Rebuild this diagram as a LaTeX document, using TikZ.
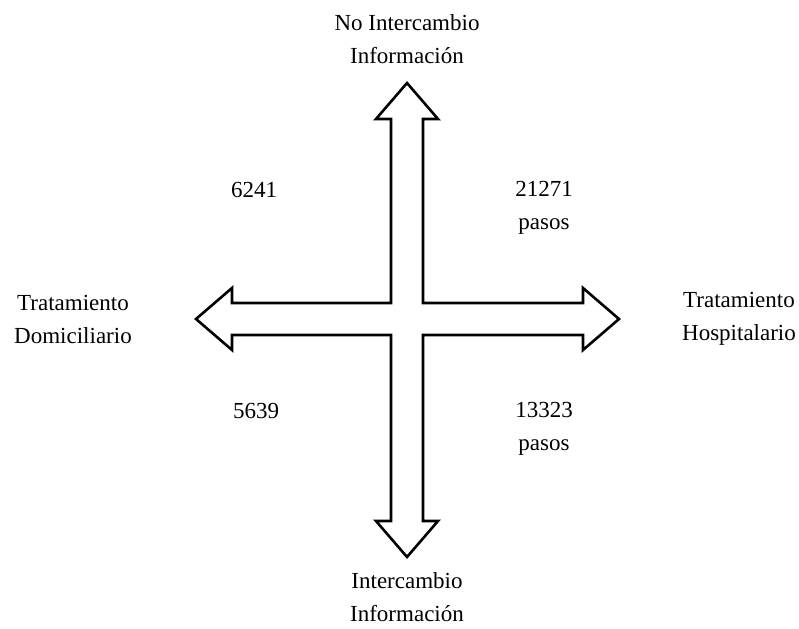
\documentclass[tikz,border=0pt]{standalone}
\usepackage{fontspec}
\setmainfont{Liberation Serif}
\usepackage{tikz}
\usetikzlibrary{positioning}

\begin{document}
\begin{tikzpicture}[x=1pt, y=-1pt, every node/.style={font=\fontsize{23}{33}\selectfont, align=center, inner sep=0pt}]

    \useasboundingbox (0,0) rectangle (799,628);

    % Cross arrow
    \draw[line width=2.6, line join=miter]
        (407,83) -- (438,119) -- (423,119) -- (423,303) -- (583,303) -- (583,288)
        -- (619,319) -- (583,350) -- (583,335) -- (423,335) -- (423,521) -- (438,521)
        -- (407,557) -- (376,521) -- (391,521) -- (391,335) -- (232,335) -- (232,350)
        -- (196,319) -- (232,288) -- (232,303) -- (391,303) -- (391,119) -- (376,119) -- cycle;

    % Nodes
    \node at (407,39) (noinfo) {No Intercambio\\Información};
    \node at (407,597) (info) {Intercambio\\Información};
    \node at (73,319) (domi) {Tratamiento\\Domiciliario};
    \node at (739,319) (hosp) {Tratamiento\\Hospitalario};
    \node at (254,190) (nodomi) {6241};
    \node at (544,208) (nohosp) {21271\\pasos};
    \node at (256,411) (sidomi) {5639};
    \node at (544,429) (sihosp) {13323\\pasos};

\end{tikzpicture}
\end{document}
